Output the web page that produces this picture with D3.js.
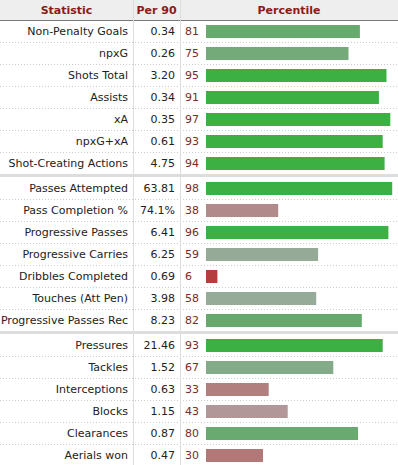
<!DOCTYPE html>
<html>
<head>
<meta charset="utf-8">
<script src="https://cdn.jsdelivr.net/npm/d3@7"></script>
<style>
  body { margin: 0; background: #fff; }
  svg { display: block; font-family: "DejaVu Sans", Verdana, sans-serif; }
</style>
</head>
<body>
<div id="plot"></div>
<script>
// table data
var statistics = ['Non-Penalty Goals','npxG','Shots Total','Assists','xA','npxG+xA','Shot-Creating Actions',
  'Passes Attempted','Pass Completion %','Progressive Passes','Progressive Carries','Dribbles Completed','Touches (Att Pen)','Progressive Passes Rec',
  'Pressures','Tackles','Interceptions','Blocks','Clearances','Aerials won'];
var per90 = ['0.34','0.26','3.20','0.34','0.35','0.61','4.75',
  '63.81','74.1%','6.41','6.25','0.69','3.98','8.23',
  '21.46','1.52','0.63','1.15','0.87','0.47'];
var percentiles = [81,75,95,91,97,93,94,
  98,38,96,59,6,58,82,
  93,67,33,43,80,30];
var sectionStarts = [7,14]; // rows where a new block begins
var headers = ['Statistic','Per 90','Percentile'];

var W = 398, H = 465,
  headH = 20, rowH = 22, sepH = 3,
  colX = [0,133,180,W];

var svg = d3.select('#plot').append('svg')
  .attr('width',W).attr('height',H);

// row positions: band over row index, then shifted by the block separators
var band = d3.scaleBand()
  .domain(d3.range(statistics.length))
  .range([headH, headH + rowH*statistics.length])
  .paddingInner(0).paddingOuter(0);
function rowTop(i){
  var n = sectionStarts.filter(function(s){ return s<=i; }).length;
  return band(i) + n*sepH;
}

var x = d3.scaleLinear().domain([0,100]).range([206,396]);

// bar colour: red -> grey -> green, top decile solid green
var colLow = d3.scaleLinear().domain([0,50]).range(['#b52e2e','#b0a8a8']).interpolate(d3.interpolateRgb);
var colHigh = d3.scaleLinear().domain([50,100]).range(['#a8aca8','#3fa84a']).interpolate(d3.interpolateRgb);
function barColor(p){
  if(p>=90) return '#3cb043';
  return p<50 ? colLow(p) : colHigh(p);
}

// header
svg.append('rect').attr('x',0).attr('y',0).attr('width',W).attr('height',headH).attr('fill','#eeeeee');
svg.append('line').attr('x1',0).attr('x2',W).attr('y1',headH+0.5).attr('y2',headH+0.5)
  .attr('stroke','#777').attr('stroke-width',1);
svg.selectAll('.hd').data(headers).enter().append('text')
  .attr('x',function(d,i){ return (colX[i]+colX[i+1])/2; })
  .attr('y',headH/2).attr('dy','0.35em')
  .attr('text-anchor','middle')
  .attr('font-size',11).attr('font-weight','bold')
  .attr('fill','#8b1a1a')
  .text(function(d){ return d; });

// block separators
svg.selectAll('.sep').data(sectionStarts).enter().append('rect')
  .attr('x',0).attr('width',W)
  .attr('y',function(s){ return rowTop(s)-sepH; })
  .attr('height',sepH)
  .attr('fill','#dddddd');

// dotted row lines
var rows = d3.range(statistics.length);
svg.selectAll('.rl').data(rows.filter(function(i){ return sectionStarts.indexOf(i+1)<0 && i<rows.length-1; }))
  .enter().append('line')
  .attr('x1',0).attr('x2',W)
  .attr('y1',function(i){ return rowTop(i)+rowH+0.5; })
  .attr('y2',function(i){ return rowTop(i)+rowH+0.5; })
  .attr('stroke','#cccccc').attr('stroke-dasharray','1,2');

// column lines
svg.selectAll('.cl').data([colX[1],colX[2]]).enter().append('line')
  .attr('x1',function(d){ return d+0.5; }).attr('x2',function(d){ return d+0.5; })
  .attr('y1',0).attr('y2',H)
  .attr('stroke','#dddddd');

var g = svg.selectAll('.row').data(rows).enter().append('g')
  .attr('transform',function(i){ return 'translate(0,'+rowTop(i)+')'; });

g.append('text')
  .attr('x',colX[1]-5).attr('y',rowH/2).attr('dy','0.35em')
  .attr('text-anchor','end').attr('font-size',11).attr('fill','#222')
  .text(function(i){ return statistics[i]; });

g.append('text')
  .attr('x',colX[2]-5).attr('y',rowH/2).attr('dy','0.35em')
  .attr('text-anchor','end').attr('font-size',11).attr('fill','#222')
  .text(function(i){ return per90[i]; });

g.append('text')
  .attr('x',185).attr('y',rowH/2).attr('dy','0.35em')
  .attr('font-size',11).attr('fill','#7a2a2a')
  .text(function(i){ return percentiles[i]; });

g.append('rect')
  .attr('x',x(0)).attr('y',5)
  .attr('width',function(i){ return x(percentiles[i])-x(0); })
  .attr('height',13)
  .attr('fill',function(i){ return barColor(percentiles[i]); });
</script>
</body>
</html>
